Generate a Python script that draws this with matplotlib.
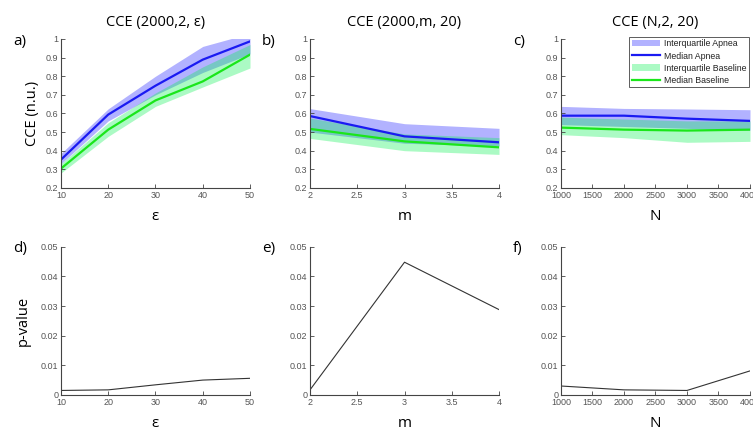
import matplotlib.pyplot as plt
import numpy as np

eps = [10, 20, 30, 40, 50]
m_vals = [2, 3, 4]
n_vals = [1000, 2000, 3000, 4000]

# panel a: CCE(2000,2,eps)
a_apnea_med = [0.352, 0.594, 0.749, 0.889, 0.987]
a_apnea_lo = [0.33, 0.56, 0.70, 0.82, 0.92]
a_apnea_hi = [0.385, 0.625, 0.80, 0.96, 1.03]
a_base_med = [0.304, 0.513, 0.670, 0.772, 0.916]
a_base_lo = [0.28, 0.477, 0.638, 0.742, 0.844]
a_base_hi = [0.33, 0.55, 0.71, 0.85, 0.97]

# panel b: CCE(2000,m,20)
b_apnea_med = [0.586, 0.477, 0.445]
b_apnea_lo = [0.50, 0.44, 0.425]
b_apnea_hi = [0.626, 0.545, 0.52]
b_base_med = [0.517, 0.45, 0.418]
b_base_lo = [0.466, 0.40, 0.38]
b_base_hi = [0.575, 0.49, 0.47]

# panel c: CCE(N,2,20)
c_apnea_med = [0.588, 0.588, 0.572, 0.56]
c_apnea_lo = [0.54, 0.53, 0.52, 0.51]
c_apnea_hi = [0.638, 0.627, 0.624, 0.62]
c_base_med = [0.524, 0.513, 0.508, 0.513]
c_base_lo = [0.486, 0.47, 0.445, 0.45]
c_base_hi = [0.58, 0.57, 0.56, 0.56]

# p-values
p_eps = [0.0015, 0.0017, 0.0034, 0.0050, 0.0056]
p_m = [0.0017, 0.0448, 0.0288]
p_n = [0.0030, 0.0017, 0.0015, 0.0081]

plt.rcParams['font.family'] = ['Liberation Sans', 'DejaVu Sans']
fig = plt.figure(figsize=(7.53, 4.33), dpi=100)

lefts = [0.081, 0.4117, 0.745]
w = 0.251
top_b, top_h = 0.566, 0.344
bot_b, bot_h = 0.088, 0.342

tick_col = '#555555'
spine_col = '#444444'


def style(ax):
    for s in ['top', 'right']:
        ax.spines[s].set_visible(False)
    for s in ['left', 'bottom']:
        ax.spines[s].set_color(spine_col)
        ax.spines[s].set_linewidth(0.8)
    ax.tick_params(direction='in', length=3, width=0.6, colors=spine_col,
                   labelsize=6.5, labelcolor=tick_col, pad=2)


tops = [
    (eps, a_apnea_med, a_apnea_lo, a_apnea_hi, a_base_med, a_base_lo, a_base_hi,
     'CCE (2000,2, ε)', 'ε', [10, 20, 30, 40, 50]),
    (m_vals, b_apnea_med, b_apnea_lo, b_apnea_hi, b_base_med, b_base_lo, b_base_hi,
     'CCE (2000,m, 20)', 'm', [2, 2.5, 3, 3.5, 4]),
    (n_vals, c_apnea_med, c_apnea_lo, c_apnea_hi, c_base_med, c_base_lo, c_base_hi,
     'CCE (N,2, 20)', 'N', [1000, 1500, 2000, 2500, 3000, 3500, 4000]),
]
letters_top = ['a)', 'b)', 'c)']
letters_bot = ['d)', 'e)', 'f)']
pvals = [p_eps, p_m, p_n]

for i, (x, am, al, ah, bm, bl, bh, title, xl, xt) in enumerate(tops):
    ax = fig.add_axes([lefts[i], top_b, w, top_h])
    ax.fill_between(x, al, ah, color=(0, 0, 1), alpha=0.3, lw=0,
                    label='Interquartile Apnea')
    ax.plot(x, am, color=(0.1, 0.1, 0.95), lw=1.6, label='Median Apnea')
    ax.fill_between(x, bl, bh, color=(0, 0.95, 0.3), alpha=0.33, lw=0,
                    label='Interquartile Baseline')
    ax.plot(x, bm, color=(0.1, 0.9, 0.1), lw=1.6, label='Median Baseline')
    ax.set_xlim(x[0], x[-1])
    ax.set_ylim(0.2, 1)
    ax.set_xticks(xt)
    ax.set_xticklabels([('%g' % t) for t in xt])
    ax.set_yticks(np.arange(0.2, 1.01, 0.1))
    ax.set_yticklabels(['0.2', '0.3', '0.4', '0.5', '0.6', '0.7', '0.8', '0.9', '1'])
    style(ax)
    ax.set_title(title, fontsize=10.5, pad=9, family='Open Sans')
    ax.set_xlabel(xl, fontsize=11, labelpad=7, family='Open Sans')
    if i == 0:
        ax.set_ylabel('CCE (n.u.)', fontsize=10.5, labelpad=4, family='Open Sans')
    if i == 2:
        leg = ax.legend(loc='upper right', fontsize=6.3, frameon=True, fancybox=False,
                        edgecolor='#333333', borderpad=0.3, labelspacing=0.35,
                        handlelength=3.3, borderaxespad=0.1, handletextpad=0.4,
                        bbox_to_anchor=(1.0, 1.02))
        leg.get_frame().set_linewidth(0.7)
        for t in leg.get_texts():
            t.set_color('#222222')
    fig.text(lefts[i] - 0.064, top_b + top_h - 0.005, letters_top[i], fontsize=11,
             va='center', family='Open Sans')

    axb = fig.add_axes([lefts[i], bot_b, w, bot_h])
    axb.plot(x, pvals[i], color='#333333', lw=0.8)
    axb.set_xlim(x[0], x[-1])
    axb.set_ylim(0, 0.05)
    axb.set_xticks(xt)
    axb.set_xticklabels([('%g' % t) for t in xt])
    axb.set_yticks([0, 0.01, 0.02, 0.03, 0.04, 0.05])
    axb.set_yticklabels(['0', '0.01', '0.02', '0.03', '0.04', '0.05'])
    style(axb)
    axb.set_xlabel(xl, fontsize=11, labelpad=7, family='Open Sans')
    if i == 0:
        axb.set_ylabel('p-value', fontsize=10.5, labelpad=7, family='Open Sans')
    fig.text(lefts[i] - 0.064, bot_b + bot_h - 0.005, letters_bot[i], fontsize=11,
             va='center', family='Open Sans')

fig.savefig('out.png', dpi=100)
